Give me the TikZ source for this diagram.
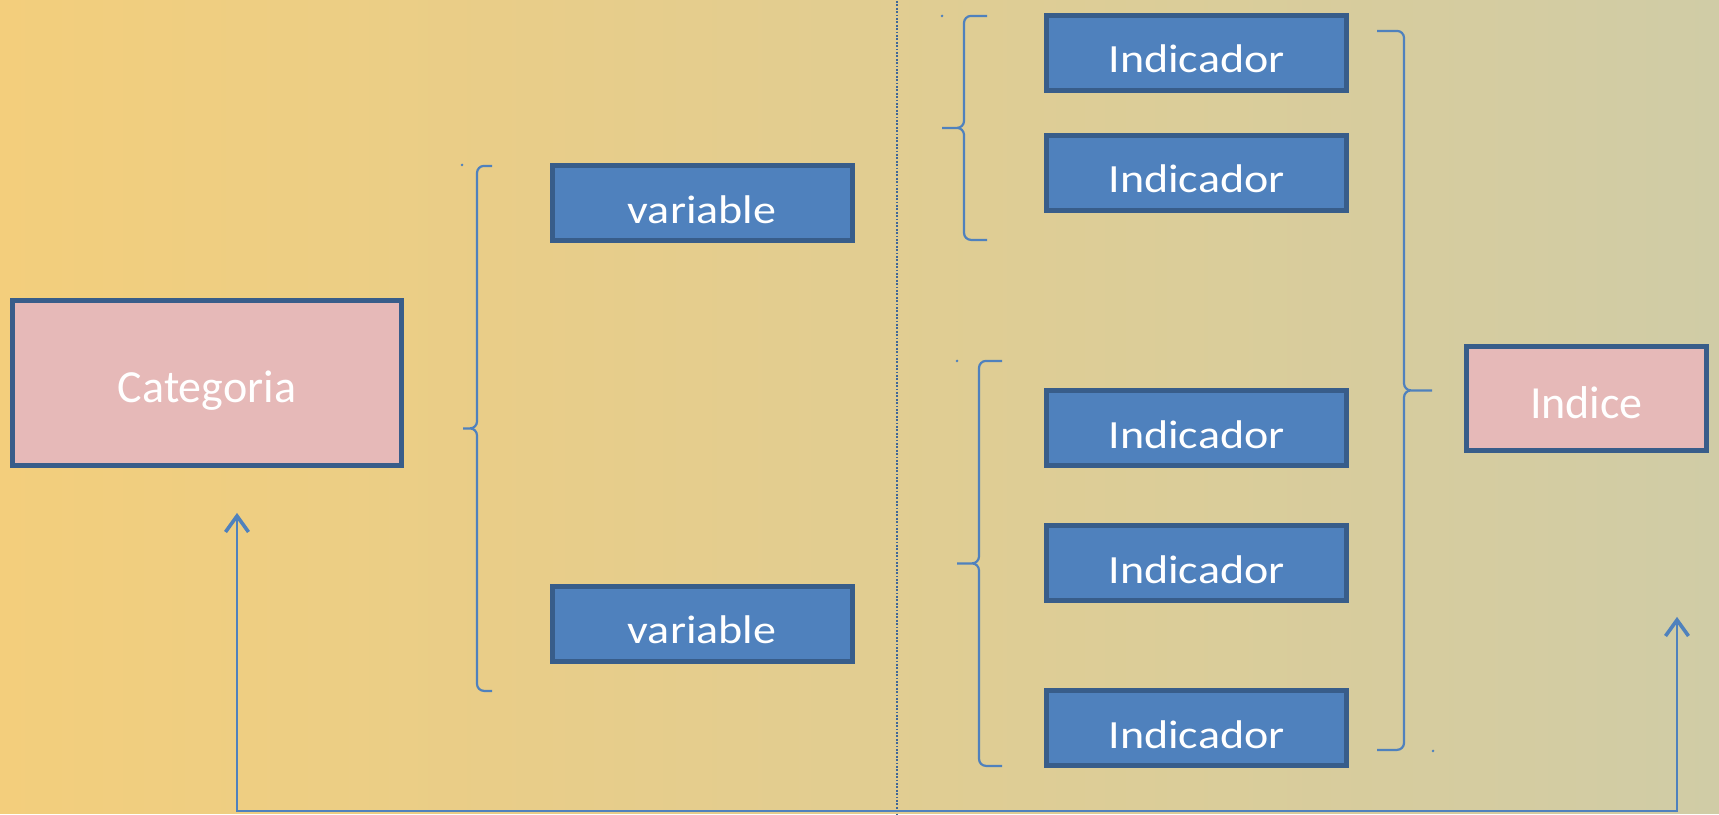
\documentclass[tikz,border=0pt]{standalone}
\usepackage{fontspec}
\setmainfont{Carlito}
\usepackage{graphicx}
\usetikzlibrary{arrows.meta}
\definecolor{fondg}{RGB}{243,206,124}
\definecolor{fondm}{RGB}{228,207,145}
\definecolor{fondd}{RGB}{208,204,166}
\definecolor{bleu}{RGB}{79,129,189}
\definecolor{bord}{RGB}{56,93,138}
\definecolor{rose}{RGB}{230,185,184}
\newcommand{\aplat}[1]{\scalebox{1}[0.87]{#1}}

\begin{document}
\begin{tikzpicture}[x=0.5pt,y=-0.5pt,
  boite/.style={draw=bord, line width=2.5pt, text=white, inner sep=0pt,
    text height=20pt, text depth=0pt, font=\fontsize{23}{27}\selectfont},
  var/.style={boite, fill=bleu, minimum width=150pt, minimum height=37.5pt},
  cle/.style={boite, fill=rose},
  acc/.style={bleu, line width=1.1pt, rounded corners=3.5pt},
  fl/.style={bleu, line width=1pt,
    {Straight Barb[length=8pt,width=11.5pt,line width=1.8pt 0]}-{Straight Barb[length=8pt,width=11.5pt,line width=1.8pt 0]}}]
\fill[left color=fondg, middle color=fondm, right color=fondd] (0,0) rectangle (1719,813);
\draw[bleu!80!black, line width=0.9pt, dash pattern=on 0.9pt off 0.8pt] (897,0) -- (897,813);
\node[cle, minimum width=194.5pt, minimum height=82.5pt] (cat) at (207,382) {Categoria};
\node[var] (var1) at (702,202.5) {\aplat{variable}};
\node[var] (var2) at (702,623) {\aplat{variable}};
\node[var] (ind1) at (1196.5,52) {\aplat{Indicador}};
\node[var] (ind2) at (1196.5,172) {\aplat{Indicador}};
\node[var] (ind3) at (1196.5,427.5) {\aplat{Indicador}};
\node[var] (ind4) at (1196.5,562.5) {\aplat{Indicador}};
\node[var] (ind5) at (1196.5,727.5) {\aplat{Indicador}};
\node[cle, minimum width=120pt, minimum height=52pt] (idx) at (1586.5,397.5) {Indice};
\coordinate (a1) at (492,165);
\coordinate (a2) at (492,690);
\coordinate (av) at (477,427.5);
\coordinate (at) at (463,427.5);
\coordinate (b1) at (987,15);
\coordinate (b2) at (987,239);
\coordinate (bv) at (964,127);
\coordinate (bt) at (942,127);
\coordinate (c1) at (1002,360);
\coordinate (c2) at (1002,765);
\coordinate (cv) at (979,562.5);
\coordinate (ct) at (957,562.5);
\coordinate (d1) at (1377,30);
\coordinate (d2) at (1377,749);
\coordinate (dv) at (1404,389.5);
\coordinate (dt) at (1432,389.5);
\draw[acc] (at) -- (av) |- (a1) (at) -- (av) |- (a2);
\draw[acc] (bt) -- (bv) |- (b1) (bt) -- (bv) |- (b2);
\draw[acc] (ct) -- (cv) |- (c1) (ct) -- (cv) |- (c2);
\draw[acc] (dt) -- (dv) |- (d1) (dt) -- (dv) |- (d2);
\foreach \p in {(462,164),(942,15),(957,360),(1433,750)}
  \fill[bleu] \p circle (0.7pt);
\coordinate (p1) at (237,512);
\coordinate (p2) at (1677,616);
\coordinate (bas) at (900,810);
\draw[fl] (p1) |- (bas) -| (p2);
\end{tikzpicture}
\end{document}
